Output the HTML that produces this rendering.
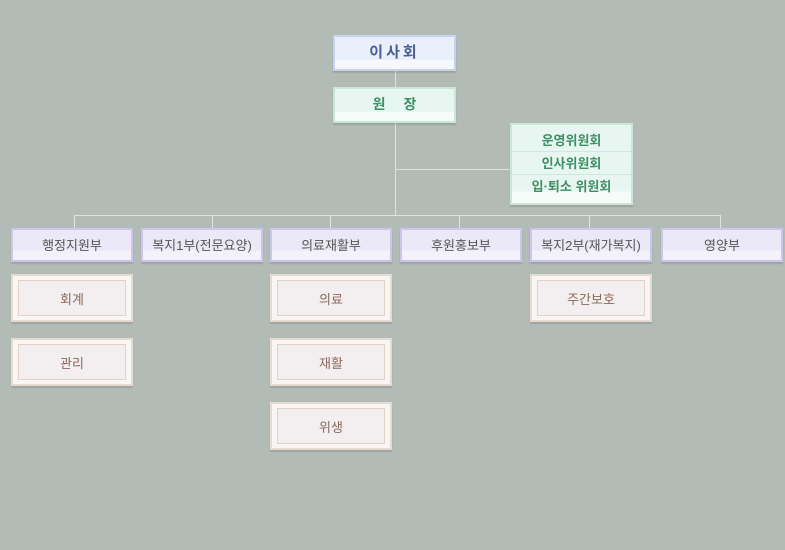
<!DOCTYPE html>
<html><head><meta charset="utf-8"><style>
body{margin:0;width:785px;height:550px;background:#b3bbb6;position:relative;overflow:hidden;font-family:"Liberation Sans","Noto Sans CJK KR",sans-serif}
.b{position:absolute;box-sizing:border-box;text-align:center;box-shadow:0 2px 1px rgba(0,0,0,0.12)}
.top{border:2px solid #c5d2f0;background:linear-gradient(#e9f0fc 0,#e9f0fc 72%,#f5f8fe 72%);color:#4a5f98;font-weight:bold;font-size:15px;letter-spacing:3px}
.dir{border:2px solid #c9e6d8;background:linear-gradient(#e8f6f2 0,#e8f6f2 72%,#f4fbf9 72%);color:#3d8f64;font-weight:bold;font-size:14px}
.com{border:2px solid #c9e6d8;background:linear-gradient(#e8f6f2 0,#e8f6f2 85%,#f4fbf9 85%);color:#3d8f64;font-weight:bold;font-size:13px}
.com div{height:22px;line-height:23px;border-bottom:1px solid #cfe8dc}
.d{border:2px solid #cdc4ec;background:linear-gradient(#ebe9f8 0,#ebe9f8 68%,#f3f2fb 68%);color:#555;font-size:13px;line-height:31px;width:122px;height:34px;top:228px}
.s{border:2px solid #e6dbd0;background:#f8f5f5;width:122px;height:48px}
.s div{position:absolute;left:5px;top:4px;right:5px;bottom:4px;border:1px solid #e3d0c9;background:#f3eef0;color:#8a6a5a;font-size:13px;line-height:37px}
.l{position:absolute;background:#dfe3e0}
</style></head><body>
<div class="l" style="left:395px;top:70px;width:1px;height:145px"></div>
<div class="l" style="left:395px;top:169px;width:116px;height:1px"></div>
<div class="l" style="left:74px;top:215px;width:647px;height:1px"></div>
<div class="l" style="left:74px;top:215px;width:1px;height:14px"></div>
<div class="l" style="left:212px;top:215px;width:1px;height:14px"></div>
<div class="l" style="left:330px;top:215px;width:1px;height:14px"></div>
<div class="l" style="left:459px;top:215px;width:1px;height:14px"></div>
<div class="l" style="left:589px;top:215px;width:1px;height:14px"></div>
<div class="l" style="left:720px;top:215px;width:1px;height:14px"></div>
<div class="b top" style="left:333px;top:35px;width:123px;height:36px;line-height:31px">이사회</div>
<div class="b dir" style="left:333px;top:87px;width:123px;height:36px;line-height:31px;word-spacing:14px">원 장</div>
<div class="b com" style="left:510px;top:123px;width:123px;height:82px;padding-top:4px"><div>운영위원회</div><div>인사위원회</div><div style="border:none">입·퇴소 위원회</div></div>
<div class="b d" style="left:11px">행정지원부</div>
<div class="b d" style="left:141px">복지1부(전문요양)</div>
<div class="b d" style="left:270px">의료재활부</div>
<div class="b d" style="left:400px">후원홍보부</div>
<div class="b d" style="left:530px">복지2부(재가복지)</div>
<div class="b d" style="left:661px">영양부</div>
<div class="b s" style="left:11px;top:274px"><div>회계</div></div>
<div class="b s" style="left:11px;top:338px"><div>관리</div></div>
<div class="b s" style="left:270px;top:274px"><div>의료</div></div>
<div class="b s" style="left:270px;top:338px"><div>재활</div></div>
<div class="b s" style="left:270px;top:402px"><div>위생</div></div>
<div class="b s" style="left:530px;top:274px"><div>주간보호</div></div>
</body></html>
